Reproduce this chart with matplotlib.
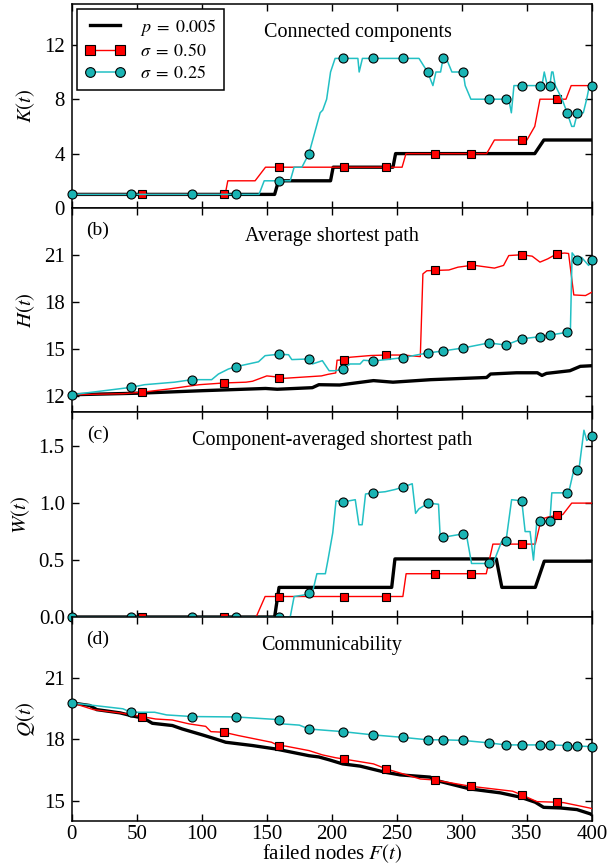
import matplotlib
matplotlib.use("Agg")
import matplotlib.pyplot as plt
from matplotlib.lines import Line2D

plt.rcParams['font.family'] = ['Liberation Serif', 'DejaVu Serif']
plt.rcParams['mathtext.fontset'] = 'stix'

# ---------------- data ----------------
legend_labels = [r'$p\;=\;0.005$', r'$\sigma\;=\;0.50$', r'$\sigma\;=\;0.25$']
titles = ['Connected components', 'Average shortest path',
          'Component-averaged shortest path', 'Communicability']
panel_tags = ['', '(b)', '(c)', '(d)']
ylabels = [r'$K(t)$', r'$H(t)$', r'$W(t)$', r'$Q(t)$']
xticks = [0, 50, 100, 150, 200, 250, 300, 350, 400]
yticks_a = [0, 4, 8, 12]
yticks_b = [12, 15, 18, 21]
yticks_c = [0.0, 0.5, 1.0, 1.5]
yticks_d = [15, 18, 21]
ytick_labels_c = ['0.0', '0.5', '1.0', '1.5']

# marker positions (failed nodes) shared by all panels
red_mk_x = [54, 117, 159, 209, 242, 279, 307, 346, 373]
cyan_mk_x = [0, 45.5, 92.4, 126.4, 159.1, 182.4, 208.5, 231.8, 254.5, 273.6,
             285.5, 300.9, 320.6, 333.9, 346, 359.7, 367.6, 380.9, 388.8, 400]

# panel (a) K(t)
black_x_a = [0, 156, 159, 199, 201, 247, 249, 356, 363, 400]
black_y_a = [1, 1, 2, 2, 3, 3, 4, 4, 5, 5]
red_x_a = [0, 118, 120, 141, 149, 254, 257, 319, 325, 350, 356, 360, 380, 384, 400]
red_y_a = [1, 1, 2, 2, 3, 3, 4, 4, 5, 5, 6, 8, 8, 9, 9]
cyan_x_a = [0, 144, 148, 168, 171, 177, 182.4, 191, 193, 196, 199, 202.5, 220, 221,
            223.5, 267, 273.6, 277.7, 280, 283.6, 285.5, 288, 292.3, 300.9, 302.5,
            306.9, 336, 338, 340, 361.5, 363.3, 365.6, 367.6, 369, 370, 371.8, 377,
            380.9, 384.4, 386.2, 388.8, 393.3, 395.9, 398, 400]
cyan_y_a = [1, 1, 2, 2, 3, 3, 4, 7, 7.2, 8, 10, 11, 11, 10,
            11, 11, 10, 9, 10, 10, 11, 11, 10, 10, 9,
            8, 8, 7, 9, 9, 10, 9, 9, 10, 10, 9, 8,
            7, 6, 6, 7, 7, 8, 9, 9]
red_mk_a = [1, 1, 3, 3, 3, 4, 4, 5, 8]
cyan_mk_a = [1, 1, 1, 1, 2, 4, 11, 11, 11, 10, 11, 10, 8, 8, 9, 9, 9, 7, 7, 9]

# panel (b) H(t)
black_x_b = [0, 52, 101, 149, 158, 185, 190, 206, 232, 247, 276, 319, 322, 342,
             358, 361.5, 365, 383, 391, 400]
black_y_b = [12.1, 12.2, 12.36, 12.5, 12.45, 12.55, 12.74, 12.72, 13.0, 12.9, 13.06,
             13.2, 13.42, 13.5, 13.5, 13.33, 13.46, 13.63, 13.91, 13.95]
red_x_b = [0, 40, 54, 75, 98, 117, 134, 139, 150, 156, 159, 164, 192, 197, 203, 204,
           209, 214, 230, 242, 255, 268, 270, 273, 279, 290, 297, 307, 310, 325, 332,
           336, 346, 354, 360, 366, 373, 379, 382, 386, 395, 400]
red_y_b = [12.1, 12.17, 12.26, 12.47, 12.74, 12.85, 12.9, 12.96, 13.3, 13.25, 13.15,
           13.15, 13.3, 13.4, 13.49, 14.3, 14.32, 14.49, 14.6, 14.63, 14.63, 14.53,
           19.8, 20.0, 20.02, 20.05, 20.23, 20.34, 20.34, 20.17, 20.34, 20.97, 21.02,
           20.93, 20.55, 20.76, 21.08, 21.13, 21.1, 18.46, 18.42, 18.64]
cyan_x_b = [0, 45.5, 56, 79, 92.4, 107.6, 112.8, 120.5, 126.4, 143.6, 148.7, 159.1,
            166.7, 169.2, 182.4, 185, 192.7, 197.9, 203, 208.5, 214, 221.7, 224.3,
            231.8, 254.5, 265, 273.6, 285.5, 300.9, 320.6, 333.9, 346, 359.7, 367.6,
            380.9, 383.4, 384.7, 388.8, 392, 397.4, 400]
cyan_y_b = [12.1, 12.57, 12.74, 12.9, 13.06, 13.06, 13.42, 13.74, 13.89, 14.2, 14.59,
            14.68, 14.65, 14.34, 14.38, 14.06, 14.27, 13.63, 13.63, 13.74, 14.06, 14.06,
            14.3, 14.25, 14.46, 14.63, 14.76, 14.89, 15.08, 15.4, 15.27, 15.66, 15.8,
            15.9, 16.08, 16.2, 21.14, 20.7, 20.85, 20.34, 20.7]
red_mk_b = [12.26, 12.85, 13.15, 14.32, 14.63, 20.02, 20.34, 21.02, 21.08]
cyan_mk_b = [12.1, 12.57, 13.06, 13.89, 14.68, 14.38, 13.74, 14.25, 14.46, 14.76,
             14.89, 15.08, 15.4, 15.27, 15.66, 15.8, 15.9, 16.08, 20.7, 20.7]

# panel (c) W(t)
black_x_c = [0, 156, 159.4, 246, 248.5, 326.4, 330.7, 356.4, 363.3, 400]
black_y_c = [0, 0, 0.26, 0.26, 0.51, 0.51, 0.26, 0.26, 0.49, 0.49]
red_x_c = [0, 141.8, 148.7, 254.6, 257.1, 318.7, 323.8, 356.4, 361, 367, 377.6,
           384.4, 400]
red_y_c = [0, 0, 0.18, 0.18, 0.38, 0.38, 0.64, 0.64, 0.86, 0.88, 0.9, 1.0, 1.0]
cyan_x_c = [0, 168, 171, 182.4, 185, 188.5, 195, 197, 200.7, 203.2, 208.5, 218,
            220.8, 223.3, 225.9, 231.8, 241, 248.7, 254.5, 261.8, 264.4, 267, 271.3,
            273.6, 282, 283.3, 285.5, 300.9, 303.5, 307.4, 315, 320.6, 324, 330.4,
            333.9, 334.4, 338.2, 346, 348.6, 352.4, 355, 357.6, 359.7, 367.6, 369.1,
            380.9, 382, 386, 388.8, 389.9, 393.8, 396, 400]
cyan_y_c = [0, 0, 0.18, 0.2, 0.21, 0.38, 0.38, 0.5, 0.74, 1.02, 1.01, 1.03,
            0.81, 0.81, 1.08, 1.09, 1.1, 1.12, 1.14, 1.17, 0.91, 0.95, 0.98,
            1.0, 0.99, 0.705, 0.7, 0.73, 0.72, 0.47, 0.47, 0.47, 0.47, 0.66,
            0.67, 0.71, 1.03, 1.02, 0.75, 0.75, 0.5, 0.84, 0.84, 0.84, 1.09,
            1.09, 1.09, 1.29, 1.29, 1.29, 1.64, 1.55, 1.59]
red_mk_c = [0, 0, 0.18, 0.18, 0.18, 0.38, 0.38, 0.64, 0.9]
cyan_mk_c = [0, 0, 0, 0, 0, 0.21, 1.01, 1.09, 1.14, 1.0, 0.7, 0.73, 0.47, 0.67,
             1.02, 0.84, 0.84, 1.09, 1.29, 1.59]

# panel (d) Q(t)
black_x_d = [0, 14, 19.2, 37.2, 47.4, 55, 62, 77.4, 85, 100.5, 110.7, 118.4, 138.9,
             156.9, 182.5, 190, 197.9, 208.2, 221.8, 241, 252.6, 275.6, 279.4, 306.4,
             329.5, 344.9, 356.4, 362.8, 375.6, 388.4, 398.7, 400]
black_y_d = [19.79, 19.66, 19.46, 19.3, 19.14, 19.05, 18.79, 18.68, 18.51, 18.22,
             18.02, 17.86, 17.7, 17.53, 17.2, 17.14, 17.0, 16.8, 16.69, 16.39, 16.26,
             16.15, 16.0, 15.57, 15.38, 15.17, 14.92, 14.67, 14.64, 14.56, 14.35, 14.3]
red_x_d = [0, 16.7, 37, 54, 64.5, 77.4, 90.3, 103, 107, 117, 128, 153.6, 159, 164.5,
           182.5, 192.8, 203, 209, 232, 242, 268, 279, 296, 307, 339, 346, 357.7, 373,
           378.2, 398.7, 400]
red_y_d = [19.8, 19.46, 19.3, 19.12, 19.0, 18.95, 18.76, 18.64, 18.38, 18.35, 18.19,
           17.86, 17.7, 17.67, 17.45, 17.24, 17.1, 17.04, 16.8, 16.55, 16.06, 16.01,
           15.82, 15.7, 15.46, 15.28, 14.95, 14.92, 14.9, 14.63, 14.6]
cyan_x_d = [0, 39.4, 45.5, 63.8, 72.9, 92.4, 126.4, 159.1, 162, 175, 182.4, 208.5,
            231.8, 254.5, 273.6, 285.5, 300.9, 320.6, 333.9, 346, 359.7, 367.6, 380.9,
            388.8, 400]
cyan_y_d = [19.79, 19.5, 19.33, 19.33, 19.2, 19.12, 19.1, 18.97, 18.76, 18.7, 18.51,
            18.38, 18.22, 18.1, 17.98, 17.98, 17.95, 17.83, 17.73, 17.73, 17.73, 17.73,
            17.7, 17.67, 17.65]
red_mk_d = [19.12, 18.35, 17.7, 17.04, 16.55, 16.01, 15.7, 15.28, 14.92]
cyan_mk_d = [19.79, 19.33, 19.12, 19.1, 18.97, 18.51, 18.38, 18.22, 18.1, 17.98,
             17.98, 17.95, 17.83, 17.73, 17.73, 17.73, 17.73, 17.7, 17.67, 17.65]

panels = [
    (black_x_a, black_y_a, red_x_a, red_y_a, cyan_x_a, cyan_y_a, red_mk_a, cyan_mk_a,
     (0, 15), yticks_a, None),
    (black_x_b, black_y_b, red_x_b, red_y_b, cyan_x_b, cyan_y_b, red_mk_b, cyan_mk_b,
     (11, 24), yticks_b, None),
    (black_x_c, black_y_c, red_x_c, red_y_c, cyan_x_c, cyan_y_c, red_mk_c, cyan_mk_c,
     (0, 1.8), yticks_c, ytick_labels_c),
    (black_x_d, black_y_d, red_x_d, red_y_d, cyan_x_d, cyan_y_d, red_mk_d, cyan_mk_d,
     (14, 24), yticks_d, None),
]

# ---------------- style ----------------
W, H = 615, 867
fig = plt.figure(figsize=(W / 100, H / 100), dpi=100)
edges = [4, 208, 412, 617, 821]
left_px, right_px = 71.7, 592

RED = '#ff0000'
CYAN_LINE = '#22c0c4'
CYAN_FACE = '#1ab4b4'

for i, (bx, by, rx, ry, cx, cy, rmk, cmk, ylim, yt, ytl) in enumerate(panels):
    top, bot = edges[i], edges[i + 1]
    ax = fig.add_axes([left_px / W, 1 - bot / H, (right_px - left_px) / W, (bot - top) / H])
    ax.plot(bx, by, color='black', lw=2.4, zorder=2)
    ax.plot(rx, ry, color=RED, lw=1.0, zorder=3)
    ax.plot(red_mk_x, rmk, ls='none', marker='s', ms=6.3, mfc=RED, mec='black',
            mew=0.8, zorder=4)
    ax.plot(cx, cy, color=CYAN_LINE, lw=1.1, zorder=5)
    ax.plot(cyan_mk_x, cmk, ls='none', marker='o', ms=6.5, mfc=CYAN_FACE, mec='black',
            mew=0.8, zorder=6, clip_on=False)
    ax.set_xlim(0, 400)
    ax.set_ylim(*ylim)
    ax.set_xticks(xticks)
    ax.set_yticks(yt)
    if ytl is not None:
        ax.set_yticklabels(ytl)
    ax.tick_params(direction='in', top=True, right=True, length=5, width=1,
                   labelsize=15, pad=5)
    if i < 3:
        ax.tick_params(labelbottom=False)
    else:
        ax.tick_params(axis='x', pad=3)
        ax.set_xlabel(r'failed nodes $F(t)$', fontsize=15, labelpad=-1)
    for s in ax.spines.values():
        s.set_linewidth(1.1)
    ax.set_ylabel(ylabels[i], fontsize=15, labelpad=5)
    tx = 0.55 if i == 0 else 0.5
    ax.text(tx, 0.86, titles[i], transform=ax.transAxes, ha='center', va='center',
            fontsize=14.5)
    if panel_tags[i]:
        ax.text(0.05, 0.89, panel_tags[i], transform=ax.transAxes, ha='center',
                va='center', fontsize=14)
    if i == 0:
        handles = [
            Line2D([], [], color='black', lw=2.4),
            Line2D([], [], color=RED, lw=1.0, marker='s', ms=7, mfc=RED, mec='black', mew=0.8),
            Line2D([], [], color=CYAN_LINE, lw=1.1, marker='o', ms=7, mfc=CYAN_FACE,
                   mec='black', mew=0.8),
        ]
        leg = ax.legend(handles, legend_labels, loc='upper left', fontsize=13,
                        numpoints=2, handlelength=2.3, fancybox=False, framealpha=1,
                        edgecolor='black', borderaxespad=0.3, labelspacing=0.3,
                        handletextpad=0.8, borderpad=0.4)
        leg.get_frame().set_linewidth(1.1)

fig.savefig('out.png', dpi=100)
